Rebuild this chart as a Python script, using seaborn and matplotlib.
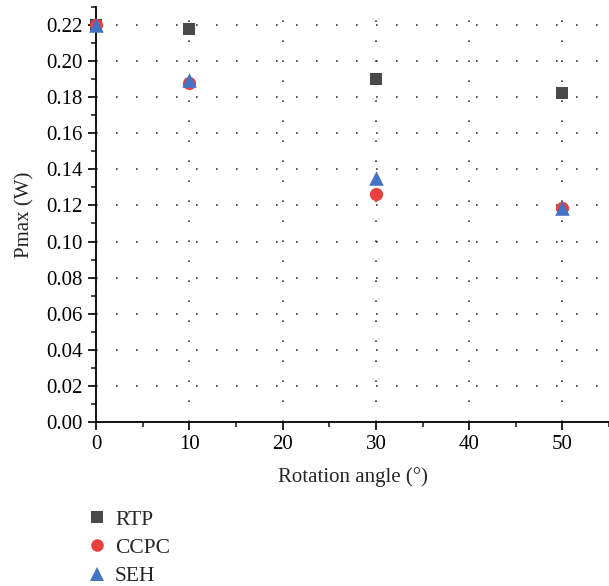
import matplotlib
matplotlib.use("Agg")
import matplotlib.pyplot as plt
from matplotlib.ticker import MultipleLocator, FormatStrFormatter
from matplotlib.lines import Line2D
import seaborn as sns
import pandas as pd

angles = [0, 10, 30, 50]
rtp = [0.220, 0.2178, 0.190, 0.1823]
ccpc = [0.220, 0.1879, 0.1265, 0.1186]
seh = [0.220, 0.1895, 0.1352, 0.1185]
series = ["RTP", "CCPC", "SEH"]

df = pd.DataFrame({
    "angle": angles * 3,
    "pmax": rtp + ccpc + seh,
    "method": [s for s in series for _ in angles],
})

sns.set_theme(style="ticks")
plt.rcParams["font.family"] = ["Liberation Serif", "DejaVu Serif"]

fig = plt.figure(figsize=(6.09, 5.86), dpi=100)
ax = fig.add_axes([0.158, 0.28, 0.842, 0.708])

colors = {"RTP": "#4a4848", "CCPC": "#e8403d", "SEH": "#4472c4"}
markers = {"RTP": "s", "CCPC": "o", "SEH": "^"}
sizes = {"RTP": 80, "CCPC": 90, "SEH": 110}

# one layer per method so later series sit on top of earlier ones
for i, name in enumerate(series):
    sub = df[df["method"] == name]
    sns.scatterplot(data=sub, x="angle", y="pmax", color=colors[name],
                    marker=markers[name], s=sizes[name], linewidth=0,
                    ax=ax, legend=False, zorder=3 + i, clip_on=False)

ax.set_xlim(0, 55)
ax.set_ylim(0, 0.23)
ax.xaxis.set_major_locator(MultipleLocator(10))
ax.xaxis.set_minor_locator(MultipleLocator(5))
ax.yaxis.set_major_locator(MultipleLocator(0.02))
ax.yaxis.set_minor_locator(MultipleLocator(0.01))
ax.yaxis.set_major_formatter(FormatStrFormatter("%.2f"))

ax.grid(True, which="major", color="#3a3a3a", linestyle=(0, (1, 11)), linewidth=1.2)
for side in ("top", "right"):
    ax.spines[side].set_visible(False)
for side in ("left", "bottom"):
    ax.spines[side].set_linewidth(1.3)
    ax.spines[side].set_color("black")
ax.tick_params(which="major", direction="out", length=6, width=1.2, labelsize=15, colors="black")
ax.tick_params(which="minor", direction="out", length=3.5, width=1.2)

ax.set_xlabel("Rotation angle (°)", fontsize=15, labelpad=9)
ax.set_ylabel("Pmax (W)", fontsize=15, labelpad=9)

handles = [Line2D([], [], linestyle="none", marker=markers[n], color=colors[n],
                  markersize=9 if n != "SEH" else 10, markeredgewidth=0) for n in series]
fig.legend(handles, series, loc="upper left", bbox_to_anchor=(0.127, 0.145),
           frameon=False, fontsize=15.5, handletextpad=0.35, labelspacing=0.38,
           borderaxespad=0, handlelength=1.0)

fig.savefig("out.png", dpi=100)
